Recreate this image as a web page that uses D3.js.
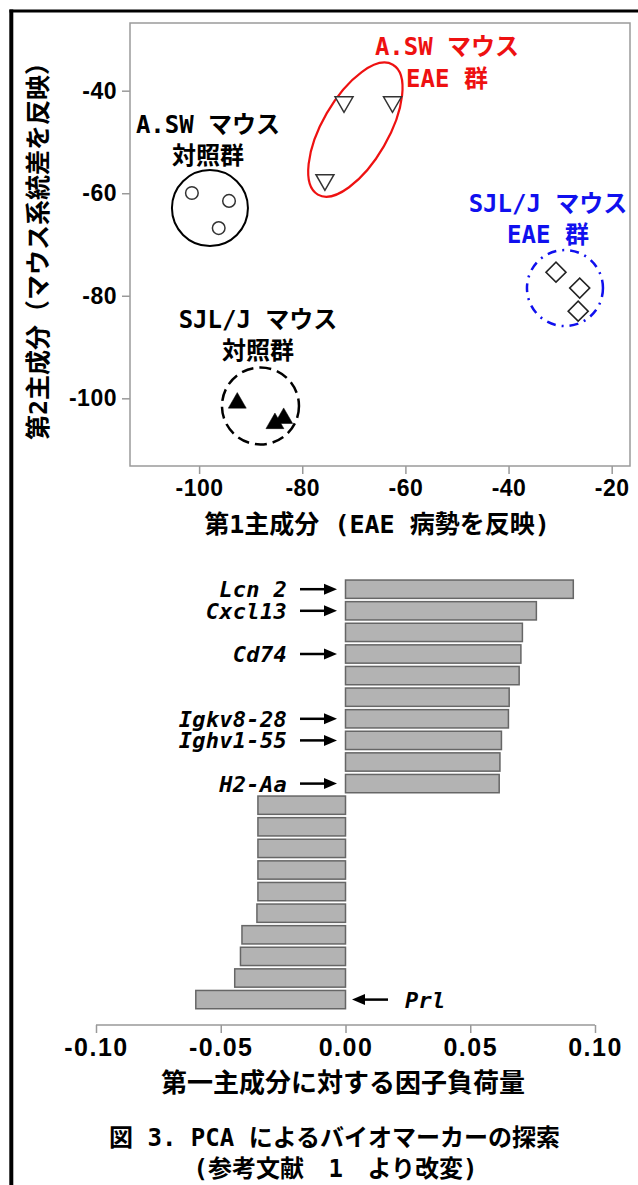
<!DOCTYPE html>
<html>
<head>
<meta charset="utf-8">
<script src="https://cdn.jsdelivr.net/npm/d3@7/dist/d3.min.js"></script>
<style>
  html, body { margin: 0; padding: 0; background: #fff; }
  svg { display: block; }
</style>
</head>
<body>
<svg id="chart" width="638" height="1185"></svg>
<script>
// ---------------- DATA ----------------
// PCA score plot
const pcaXTicks = [-100, -80, -60, -40, -20];
const pcaYTicks = [-40, -60, -80, -100];
const pcaXExtent = [-113.4, -16.45];
const pcaYExtent = [-113.2, -26.8];

const aswCtrlX = [-101.4, -94.2, -96.2];
const aswCtrlY = [-59.95, -61.5, -66.8];
const aswEaeX = [-71.9, -62.5, -75.6];
const aswEaeY = [-42.2, -42.2, -57.4];
const sjlEaeX = [-30.8, -26.2, -26.5];
const sjlEaeY = [-75.4, -78.5, -83.0];
const sjlCtrlX = [-92.6, -85.3, -83.6];
const sjlCtrlY = [-100.9, -104.9, -103.9];

// group enclosure centres (data units)
const groupNames = ["A.SW 対照群", "A.SW EAE 群", "SJL/J EAE 群", "SJL/J 対照群"];
const groupCX = [-97.9, -69.7, -29.06, -88.1];
const groupCY = [-62.9, -47.6, -78.5, -101.5];

// factor loadings on PC1
const loadings = [0.0913, 0.0765, 0.0709, 0.0703, 0.0696, 0.0656, 0.0653, 0.0625, 0.0619, 0.0616,
                  -0.0351, -0.0351, -0.0351, -0.0351, -0.0351, -0.0355, -0.0415, -0.0421, -0.0444, -0.0600];
const geneLabels = ["Lcn 2", "Cxcl13", "", "Cd74", "", "", "Igkv8-28", "Ighv1-55", "", "H2-Aa",
                    "", "", "", "", "", "", "", "", "", "Prl"];
const loadTicks = [-0.10, -0.05, 0.00, 0.05, 0.10];

// ---------------- DRAW ----------------
const svg = d3.select("#chart");
const monoCJK = "'DejaVu Sans Mono', 'Noto Sans CJK JP', sans-serif";
const sans = "'Liberation Sans', Arial, sans-serif";

// outer frame
svg.append("line").attr("x1", 11.3).attr("x2", 11.3).attr("y1", 9.5).attr("y2", 1185)
  .attr("stroke", "#000").attr("stroke-width", 4);
svg.append("line").attr("x1", 9.5).attr("x2", 638).attr("y1", 11).attr("y2", 11)
  .attr("stroke", "#000").attr("stroke-width", 3);

// ---- scatter ----
const x = d3.scaleLinear().domain(pcaXExtent).range([130, 630]);
const y = d3.scaleLinear().domain(pcaYExtent).range([466, 23]);

const fmt = d => String(d).replace("\u2212", "-");

const gx = svg.append("g").attr("transform", "translate(0,466)")
  .call(d3.axisBottom(x).tickValues(pcaXTicks).tickSize(8).tickPadding(6).tickFormat(fmt));
const gy = svg.append("g").attr("transform", "translate(130,0)")
  .call(d3.axisLeft(y).tickValues(pcaYTicks).tickSize(8).tickPadding(5).tickFormat(fmt));
[gx, gy].forEach(g => {
  g.select(".domain").remove();
  g.selectAll(".tick line").attr("stroke", "#999").attr("stroke-width", 1.5);
  g.selectAll(".tick text").attr("fill", "#000").style("font-family", sans)
    .style("font-size", "23px").style("font-weight", "bold").style("letter-spacing", "0.5px");
});

svg.append("rect").attr("x", x.range()[0]).attr("y", y.range()[1])
  .attr("width", x.range()[1] - x.range()[0]).attr("height", y.range()[0] - y.range()[1])
  .attr("fill", "none").attr("stroke", "#9a9a9a").attr("stroke-width", 1.5);

// enclosures
svg.append("circle").attr("cx", x(groupCX[0])).attr("cy", y(groupCY[0])).attr("r", 38)
  .attr("fill", "none").attr("stroke", "#000").attr("stroke-width", 2);
svg.append("ellipse").attr("rx", 33).attr("ry", 75)
  .attr("transform", `translate(${x(groupCX[1])},${y(groupCY[1])}) rotate(30)`)
  .attr("fill", "none").attr("stroke", "#ee1111").attr("stroke-width", 2.2);
svg.append("circle").attr("cx", x(groupCX[2])).attr("cy", y(groupCY[2])).attr("r", 38)
  .attr("fill", "none").attr("stroke", "#1010ee").attr("stroke-width", 2.5)
  .attr("stroke-dasharray", "9,6,2,6");
svg.append("circle").attr("cx", x(groupCX[3])).attr("cy", y(groupCY[3])).attr("r", 38.5)
  .attr("fill", "none").attr("stroke", "#000").attr("stroke-width", 2.5)
  .attr("stroke-dasharray", "12,6");

// points
const zip = (a, b) => a.map((v, i) => [v, b[i]]);
svg.append("g").selectAll("circle").data(zip(aswCtrlX, aswCtrlY)).join("circle")
  .attr("cx", d => x(d[0])).attr("cy", d => y(d[1])).attr("r", 6.3)
  .attr("fill", "#fff").attr("stroke", "#333").attr("stroke-width", 1.5);
const tri = d3.symbol().type(d3.symbolTriangle).size(140);
svg.append("g").selectAll("path").data(zip(aswEaeX, aswEaeY)).join("path")
  .attr("d", tri).attr("transform", d => `translate(${x(d[0])},${y(d[1])}) rotate(180)`)
  .attr("fill", "#fff").attr("stroke", "#333").attr("stroke-width", 1.5);
const sq = d3.symbol().type(d3.symbolSquare).size(200);
svg.append("g").selectAll("path").data(zip(sjlEaeX, sjlEaeY)).join("path")
  .attr("d", sq).attr("transform", d => `translate(${x(d[0])},${y(d[1])}) rotate(45)`)
  .attr("fill", "#fff").attr("stroke", "#222").attr("stroke-width", 1.6);
svg.append("g").selectAll("path").data(zip(sjlCtrlX, sjlCtrlY)).join("path")
  .attr("d", tri).attr("transform", d => `translate(${x(d[0])},${y(d[1])})`)
  .attr("fill", "#000").attr("stroke", "#000").attr("stroke-width", 0.5);

// annotation text
function label(lines, cx, baselines, color) {
  lines.forEach((t, i) => {
    svg.append("text").attr("x", cx).attr("y", baselines[i]).attr("text-anchor", "middle")
      .style("font-family", monoCJK).style("font-size", "24px").style("font-weight", "bold")
      .attr("fill", color).text(t);
  });
}
label(["A.SW マウス", "対照群"], 208, [133, 164], "#000");
label(["A.SW マウス", "EAE 群"], 447, [55, 87], "#ee1111");
label(["SJL/J マウス", "EAE 群"], 548, [212, 243], "#1010ee");
label(["SJL/J マウス", "対照群"], 258, [328, 359], "#000");

// axis titles
svg.append("text").attr("transform", "translate(38.5,245) rotate(-90)")
  .attr("text-anchor", "middle").attr("dominant-baseline", "central")
  .style("font-family", monoCJK).style("font-size", "25px").style("font-weight", "bold")
  .text("第2主成分（マウス系統差を反映）");
svg.append("text").attr("x", 377).attr("y", 533).attr("text-anchor", "middle")
  .style("font-family", monoCJK).style("font-size", "25px").style("font-weight", "bold")
  .text("第1主成分 (EAE 病勢を反映)");

// ---- loadings bar chart ----
const bx = d3.scaleLinear().domain([-0.1, 0.1]).range([96, 595]);
const by = d3.scaleBand().domain(d3.range(loadings.length)).range([578.4, 1010.4])
  .paddingInner(0.153).paddingOuter(0.0765);

svg.append("g").selectAll("rect").data(loadings).join("rect")
  .attr("x", d => bx(Math.min(0, d))).attr("y", (d, i) => by(i))
  .attr("width", d => Math.abs(bx(d) - bx(0))).attr("height", by.bandwidth())
  .attr("fill", "#b3b3b3").attr("stroke", "#666").attr("stroke-width", 1.5);

const gb = svg.append("g").attr("transform", "translate(0,1025)")
  .call(d3.axisBottom(bx).tickValues(loadTicks).tickSize(8).tickSizeOuter(0).tickPadding(5)
    .tickFormat(d => d3.format(".2f")(d).replace("\u2212", "-")));
gb.select(".domain").attr("stroke", "#999").attr("stroke-width", 1.5)
  .attr("d", `M${bx(-0.1)},0H${bx(0.1)}`);
gb.selectAll(".tick line").attr("stroke", "#999").attr("stroke-width", 1.5);
gb.selectAll(".tick text").attr("fill", "#000").style("font-family", sans)
  .style("font-size", "25px").style("font-weight", "bold").style("letter-spacing", "1.5px");

// gene labels with arrows
const arrows = svg.append("g");
loadings.forEach((v, i) => {
  const lab = geneLabels[i];
  if (!lab) return;
  const cy = by(i) + by.bandwidth() / 2;
  const t = arrows.append("text").attr("y", cy).attr("dy", "0.36em")
    .style("font-family", "'DejaVu Sans Mono', monospace").style("font-style", "italic")
    .style("font-weight", "bold").style("letter-spacing", "0.3px")
    .style("font-size", "22px").attr("fill", "#000").text(lab);
  if (v > 0) {
    t.attr("x", 287).attr("text-anchor", "end");
    arrows.append("line").attr("x1", 300).attr("x2", 327).attr("y1", cy).attr("y2", cy)
      .attr("stroke", "#000").attr("stroke-width", 2.5);
    arrows.append("path").attr("d", `M337,${cy}L324,${cy - 5.5}L324,${cy + 5.5}Z`).attr("fill", "#000");
  } else {
    t.attr("x", 405).attr("text-anchor", "start");
    arrows.append("line").attr("x1", 362).attr("x2", 388).attr("y1", cy).attr("y2", cy)
      .attr("stroke", "#000").attr("stroke-width", 2.5);
    arrows.append("path").attr("d", `M352,${cy}L365,${cy - 5.5}L365,${cy + 5.5}Z`).attr("fill", "#000");
  }
});

svg.append("text").attr("x", 343).attr("y", 1092).attr("text-anchor", "middle")
  .style("font-family", monoCJK).style("font-size", "26px").style("font-weight", "bold")
  .text("第一主成分に対する因子負荷量");

// caption
svg.append("text").attr("x", 334.5).attr("y", 1146).attr("text-anchor", "middle")
  .style("font-family", monoCJK).style("font-size", "24px").style("font-weight", "bold")
  .text("図 3. PCA によるバイオマーカーの探索");
svg.append("text").attr("x", 335.5).attr("y", 1177).attr("text-anchor", "middle")
  .style("font-family", monoCJK).style("font-size", "24px").style("font-weight", "bold")
  .style("word-spacing", "10px")
  .text("(参考文献 1 より改変)");
</script>
</body>
</html>
